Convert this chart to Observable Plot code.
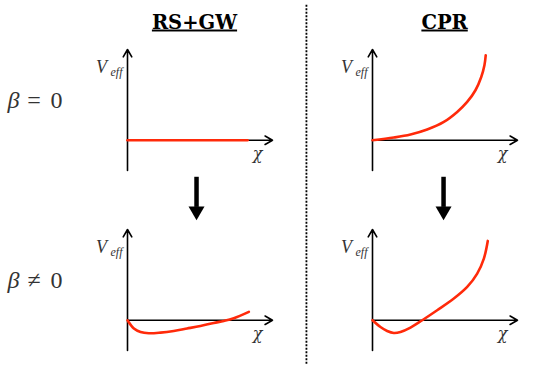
<!DOCTYPE html>
<html><head><meta charset="utf-8">
<script src="https://cdn.jsdelivr.net/npm/d3@7"></script>
<script src="https://cdn.jsdelivr.net/npm/@observablehq/plot@0.6"></script>
<style>
html,body{margin:0;padding:0;background:#fff;overflow:hidden}
</style></head><body><div id="chart"></div>
<script>
// Panels
const columns = ["RS+GW", "CPR"];
const rows = ["β = 0", "β ≠ 0"];
const rowSymbols = ["=", "≠"];

// Curves: χ values and V_eff values
const chiRsgwFlat = [0, 0.828];
const vRsgwFlat   = [0, 0];
const chiCprFlat  = [0, 0.147, 0.262, 0.377, 0.492, 0.584, 0.653, 0.710, 0.750, 0.772, 0.781];
const vCprFlat    = [0, 0.030, 0.063, 0.118, 0.202, 0.312, 0.422, 0.551, 0.697, 0.826, 0.937];
const chiRsgwBeta = [0, 0.044, 0.090, 0.147, 0.228, 0.319, 0.411, 0.503, 0.595, 0.664, 0.733, 0.837];
const vRsgwBeta   = [0, -0.091, -0.129, -0.143, -0.136, -0.118, -0.091, -0.063, -0.030, -0.008, 0.022, 0.092];
const chiCprBeta  = [0, 0.055, 0.101, 0.147, 0.193, 0.262, 0.343, 0.446, 0.561, 0.653, 0.722, 0.768, 0.795];
const vCprBeta    = [0, -0.074, -0.118, -0.140, -0.129, -0.081, 0, 0.110, 0.239, 0.367, 0.514, 0.680, 0.874];

const curveSpecs = [
  {col: columns[0], row: rows[0], chi: chiRsgwFlat, v: vRsgwFlat},
  {col: columns[1], row: rows[0], chi: chiCprFlat, v: vCprFlat},
  {col: columns[0], row: rows[1], chi: chiRsgwBeta, v: vRsgwBeta},
  {col: columns[1], row: rows[1], chi: chiCprBeta, v: vCprBeta}
];
const curves = curveSpecs.flatMap(s => s.chi.map((c, i) => ({col: s.col, row: s.row, chi: c, V: s.v[i]})));

const axesArrows = [
  {x1: 0, y1: -1/3, x2: 0, y2: 1.0},
  {x1: 0, y1: 0, x2: 1, y2: 0}
];
const titles = columns.map((c, i) => ({col: c, row: rows[0], label: c, x: [0.462, 0.497][i]}));
const downArrows = columns.map((c, i) => ({col: c, row: rows[0], x: [0.476, 0.49][i]}));
const rowLabels = rows.map((r, i) => ({col: columns[0], row: r, sym: rowSymbols[i]}));

const red = "#ff2a0a";
const serif = "Liberation Serif";
const labelColor = "#333";

const chart = Plot.plot({
  width: 554, height: 370,
  marginTop: 0, marginRight: 0, marginBottom: 0, marginLeft: 0,
  style: {background: "#fff"},
  fx: {domain: columns, range: [127, 517], paddingInner: 100/245, paddingOuter: 0, round: false, axis: null},
  fy: {domain: rows, range: [49, 350], paddingInner: 59/180, paddingOuter: 0, round: false, axis: null},
  x: {domain: [0, 1], range: [0, 145], axis: null},
  y: {domain: [-1/3, 1], range: [121, 0], axis: null},
  marks: [
    // coordinate axes in every panel
    Plot.arrow(axesArrows, {x1: "x1", y1: "y1", x2: "x2", y2: "y2", stroke: "#000", strokeWidth: 1.6, headLength: 8}),
    // V_eff label
    Plot.text(["V"], {x: 0, y: 0.80, text: d => d, dx: -26, fontFamily: serif, fontStyle: "italic", fontSize: 18, fill: labelColor}),
    Plot.text(["eff"], {x: 0, y: 0.745, text: d => d, dx: -11, fontFamily: serif, fontStyle: "italic", fontSize: 12, fill: labelColor, style: {letterSpacing: "1px"}}),
    // chi label
    Plot.text(["χ"], {x: 0.897, y: -0.155, text: d => d, fontFamily: "DejaVu Serif", fontStyle: "italic", fontSize: 16, fill: labelColor}),
    // curves
    Plot.line(curves, {fx: "col", fy: "row", x: "chi", y: "V", z: d => d.col + d.row, stroke: red, strokeWidth: 2.6, curve: "catmull-rom"}),
    // column titles
    Plot.text(titles, {fx: "col", fy: "row", x: "x", y: 1.30, text: "label", fontFamily: "DejaVu Serif", fontWeight: "bold", fontSize: 19.5, fill: "#000"}),
    // row labels
    Plot.text(rowLabels, {fx: "col", fy: "row", x: -0.786, y: 0.435, text: () => "β", fontFamily: serif, fontStyle: "italic", fontSize: 24, fill: labelColor}),
    Plot.text(rowLabels, {fx: "col", fy: "row", x: -0.645, y: 0.435, text: "sym", fontFamily: serif, fontSize: 24, fill: labelColor}),
    Plot.text(rowLabels, {fx: "col", fy: "row", x: -0.49, y: 0.435, text: () => "0", fontFamily: serif, fontSize: 24, fill: labelColor}),
    // down arrows between rows
    Plot.ruleX(downArrows, {fx: "col", fy: "row", x: "x", y1: -0.408, y2: -0.74, stroke: "#000", strokeWidth: 4.5}),
    Plot.dot(downArrows, {fx: "col", fy: "row", x: "x", y: -0.78, symbol: "triangle", r: 5.94, rotate: 180, fill: "#000", stroke: "none"}),
    // dotted separator
    Plot.ruleX([{col: columns[0], row: rows[0]}], {fx: "col", fy: "row", x: 1.234, y1: 1.488, y2: -2.479, stroke: "#000", strokeWidth: 1.8, strokeDasharray: "2,1.5"})
  ]
});
d3.select(chart).selectAll("text")
  .filter(function() { return columns.includes(this.textContent); })
  .style("text-decoration", "underline")
  .style("text-decoration-thickness", "1.5px")
  .style("text-underline-offset", "4px");
document.getElementById("chart").appendChild(chart);
</script></body></html>
